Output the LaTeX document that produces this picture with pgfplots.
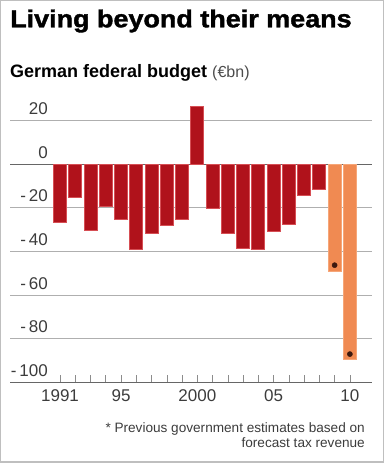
\documentclass[border=0pt]{standalone}
\usepackage{pgfplots}
\pgfplotsset{compat=1.18}
\usepackage{graphicx}
\usepackage{fontspec}
\setmainfont{Liberation Sans}
\newfontfamily\titlefont[FakeBold=1.5]{Liberation Sans Bold}
\definecolor{barred}{RGB}{176,18,27}
\definecolor{edgered}{RGB}{214,78,84}
\definecolor{barorange}{RGB}{240,138,82}
\definecolor{edgeorange}{RGB}{246,166,120}
\definecolor{gridgray}{RGB}{175,175,175}
\definecolor{labgray}{RGB}{60,60,60}
\pgfplotstableread{
year value
1991 -26.6
1992 -15.5
1993 -30.5
1994 -19.6
1995 -25.4
1996 -39.2
1997 -31.7
1998 -28.1
1999 -25.4
2000 26.3
2001 -20.4
2002 -31.8
2003 -38.5
2004 -39.2
2005 -30.9
2006 -27.6
2007 -14.2
2008 -11.5
}\actualdata
\pgfplotstableread{
year value
2009 -49.2
2010 -89.3
}\estimatedata
\pgfplotstableread{
year value
2009 -46.3
2010 -87.0
}\markdata
\begin{document}
\begin{tikzpicture}
\useasboundingbox (0pt,0pt) rectangle (389pt,463pt);
\draw[black!25, line width=1.2pt] (0.8pt,0.9pt) rectangle (383.5pt,462.2pt);
\node[anchor=base west, inner sep=0pt] at (10pt,435.7pt)
  {\titlefont\fontsize{24.5}{24.5}\selectfont\scalebox{1.1}[1]{Living beyond their means}};
\node[anchor=base west, inner sep=0pt] at (10pt,385pt)
  {\bfseries\fontsize{18}{18}\selectfont German federal budget\ \mdseries\fontsize{16}{16}\selectfont\color{black!70}(€bn)};
\node[anchor=base east, inner sep=0pt, text=labgray] at (365pt,30.3pt)
  {\fontsize{13.6}{13.6}\selectfont * Previous government estimates based on};
\node[anchor=base east, inner sep=0pt, text=labgray] at (365pt,15.3pt)
  {\fontsize{13.6}{13.6}\selectfont forecast tax revenue};
\begin{axis}[
  at={(10pt,80.5pt)}, anchor=south west,
  scale only axis, width=362pt, height=284pt,
  xmin=1987.72, xmax=2011.45,
  ymin=-100, ymax=30,
  axis line style={draw=none},
  clip=false,
  ytick={-100,-80,-60,-40,-20,0,20},
  yticklabels={-\,100,-\,80,-\,60,-\,40,-\,20,0,20},
  ymajorgrids,
  grid style={draw=gridgray, line width=0.8pt},
  ytick style={draw=none},
  yticklabel style={anchor=base east, inner sep=0pt, xshift=38pt, yshift=6pt,
    font=\fontsize{17}{17}\selectfont, text=labgray},
  extra y ticks={0,-100},
  extra y tick labels={},
  extra y tick style={grid style={draw=black!60, line width=1pt}, ytick style={draw=none}},
  xtick={1991,...,2010},
  xticklabels={1991,,,,95,,,,,2000,,,,,05,,,,,10},
  xtick pos=bottom,
  xtick align=inside,
  major tick length=7pt,
  xtick style={draw=black!45, line width=0.6pt},
  xticklabel style={anchor=north, inner sep=0pt, yshift=-7pt,
    font=\fontsize{17}{17}\selectfont, text=labgray},
]
\addplot[ybar, bar width=13pt, bar shift=0pt, fill=barred, draw=edgered, line width=0.8pt]
  table[x=year, y=value] {\actualdata};
\addplot[ybar, bar width=13pt, bar shift=0pt, fill=barorange, draw=edgeorange, line width=0.8pt]
  table[x=year, y=value] {\estimatedata};
\addplot[only marks, mark=*, mark size=2.6pt, color={rgb,255:red,60;green,25;blue,15}]
  table[x=year, y=value] {\markdata};
\end{axis}
\end{tikzpicture}
\end{document}
